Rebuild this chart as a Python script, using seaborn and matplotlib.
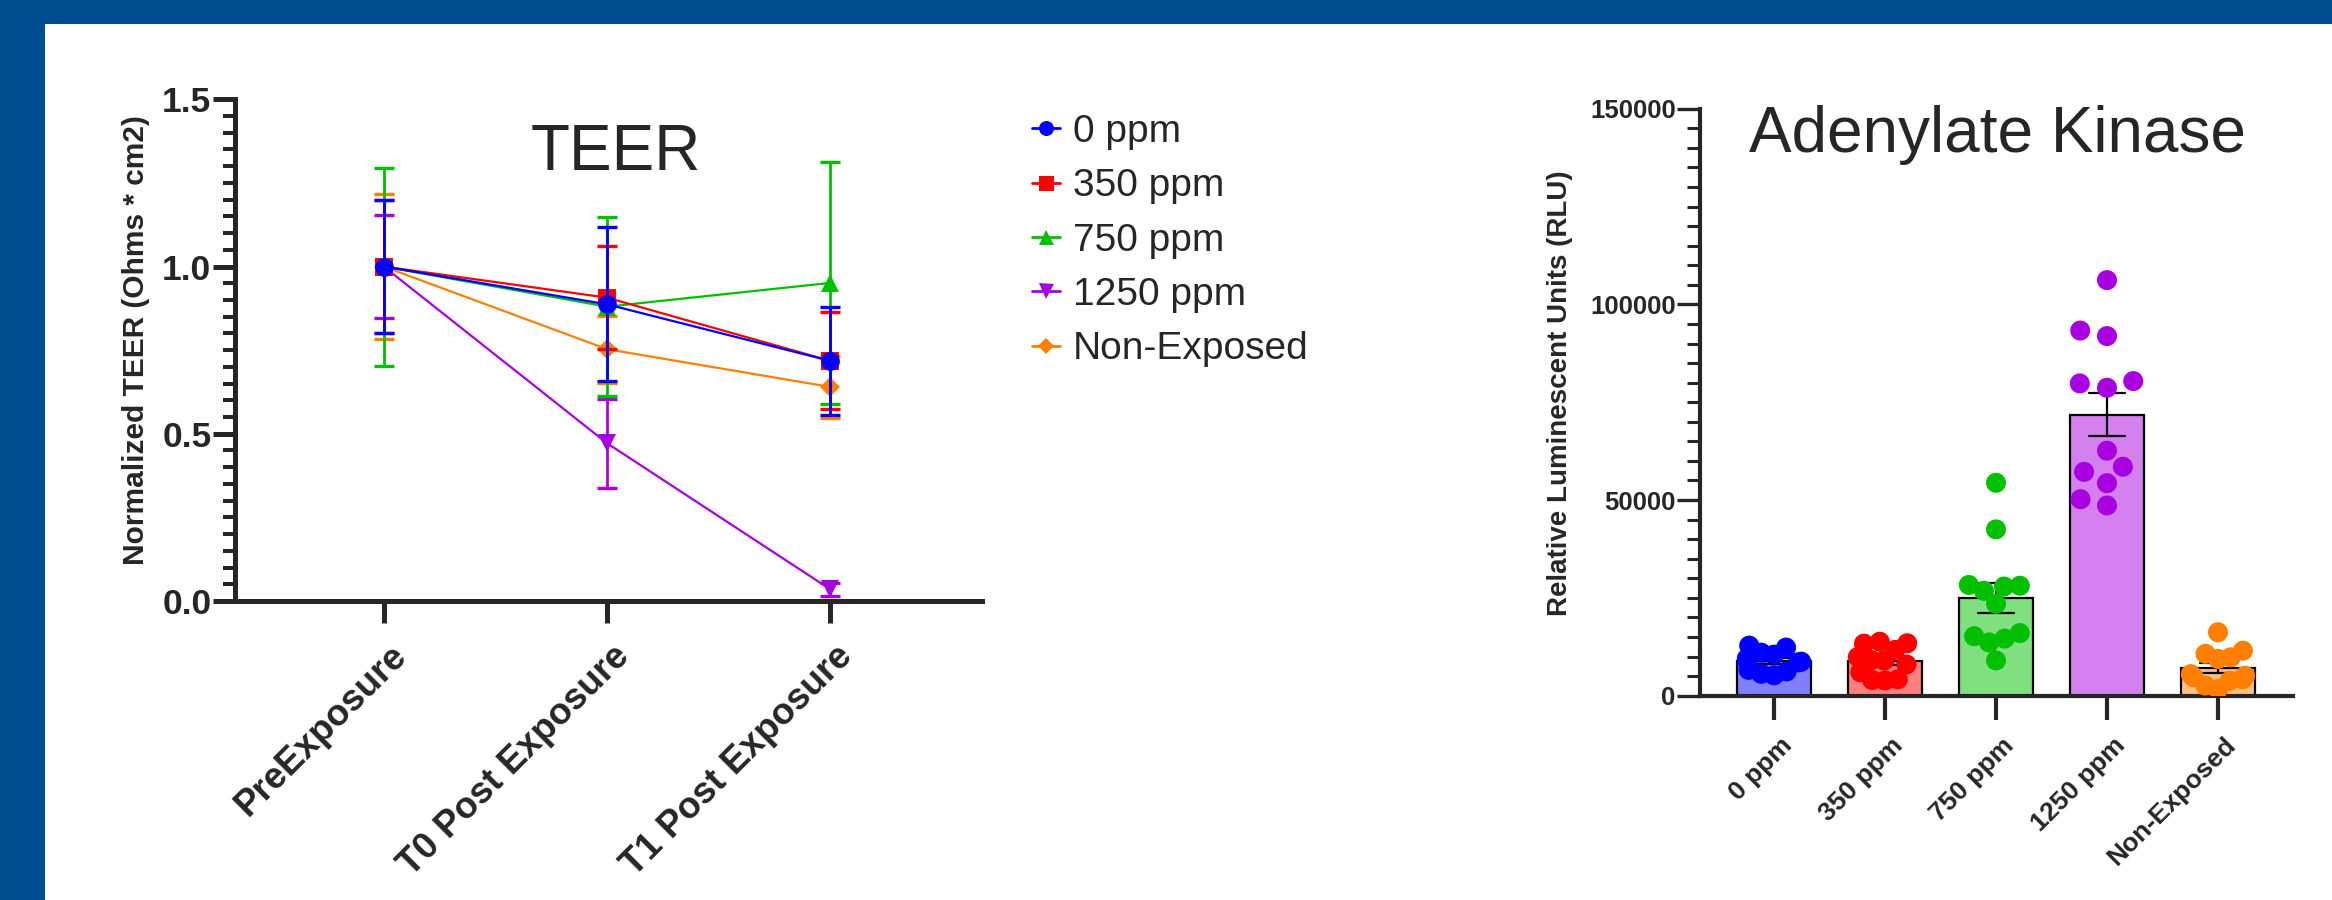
import numpy as np
import pandas as pd
import matplotlib
matplotlib.use("Agg")
import matplotlib.pyplot as plt
from matplotlib.lines import Line2D
from matplotlib.patches import Rectangle
from matplotlib.ticker import MultipleLocator
from matplotlib.transforms import ScaledTranslation
import seaborn as sns

# ---------------- data ----------------
time_points = ["PreExposure", "T0 Post Exposure", "T1 Post Exposure"]
groups = ["0 ppm", "350 ppm", "750 ppm", "1250 ppm", "Non-Exposed"]

teer_mean_0ppm = [1.00, 0.887, 0.718]
teer_sd_0ppm = [0.200, 0.230, 0.162]
teer_mean_350ppm = [1.00, 0.907, 0.718]
teer_sd_350ppm = [0.198, 0.155, 0.145]
teer_mean_750ppm = [1.00, 0.880, 0.951]
teer_sd_750ppm = [0.296, 0.268, 0.362]
teer_mean_1250ppm = [1.00, 0.472, 0.035]
teer_sd_1250ppm = [0.155, 0.133, 0.020]
teer_mean_nonexp = [1.00, 0.753, 0.640]
teer_sd_nonexp = [0.217, 0.100, 0.094]

ak_0ppm = [12800, 12300, 11000, 10500, 9500, 9000, 8700, 8500, 6600, 6200, 5600, 5200]
ak_350ppm = [13800, 13400, 13300, 11700, 9900, 9100, 9000, 8000, 6000, 4200, 4000, 3900]
ak_750ppm = [54400, 42500, 28300, 28100, 27900, 26800, 23500, 16000, 15200, 14600, 13600, 9000]
ak_1250ppm = [106200, 93300, 91900, 80400, 79800, 78700, 62600, 58500, 57200, 54300, 50200, 48600]
ak_nonexp = [16200, 11500, 10700, 9800, 9400, 5500, 5100, 4700, 4200, 3800, 2600, 1700]

teer_yticks = [0.0, 0.5, 1.0, 1.5]
ak_yticks = [0, 50000, 100000, 150000]

# ---------------- styles ----------------
line_col = {"0 ppm": "#0000FF", "350 ppm": "#FF0000", "750 ppm": "#00C000",
            "1250 ppm": "#A800E0", "Non-Exposed": "#FF8000"}
bar_fill = {"0 ppm": "#8080FF", "350 ppm": "#FF8080", "750 ppm": "#80DF80",
            "1250 ppm": "#D580EF", "Non-Exposed": "#FFC080"}
markers = {"0 ppm": "o", "350 ppm": "s", "750 ppm": "^", "1250 ppm": "v", "Non-Exposed": "D"}
msize = {"0 ppm": 13.5, "350 ppm": 13.5, "750 ppm": 13.5, "1250 ppm": 13.5, "Non-Exposed": 10}
draw_order = ["Non-Exposed", "1250 ppm", "750 ppm", "350 ppm", "0 ppm"]

sns.set_style("ticks")
plt.rcParams["font.family"] = ["Liberation Sans", "DejaVu Sans"]

W, H = 2332, 900
fig = plt.figure(figsize=(W / 100, H / 100), dpi=100)
fig.patch.set_facecolor("white")
border = "#004B8D"
fig.patches.append(Rectangle((0, 1 - 24 / H), 1, 24 / H, transform=fig.transFigure,
                             facecolor=border, edgecolor="none", zorder=0))
fig.patches.append(Rectangle((0, 0), 45 / W, 1, transform=fig.transFigure,
                             facecolor=border, edgecolor="none", zorder=0))


def axes_px(l, t, r, b):
    return fig.add_axes([l / W, 1 - b / H, (r - l) / W, (b - t) / H])


ax1 = axes_px(235, 99.3, 982, 601)
ax2 = axes_px(1700, 108.7, 2293, 695.7)

# ---------------- TEER ----------------
teer_df = pd.DataFrame({
    "time": time_points * 5,
    "group": np.repeat(groups, len(time_points)),
    "mean": teer_mean_0ppm + teer_mean_350ppm + teer_mean_750ppm + teer_mean_1250ppm + teer_mean_nonexp,
    "sd": teer_sd_0ppm + teer_sd_350ppm + teer_sd_750ppm + teer_sd_1250ppm + teer_sd_nonexp,
})

for z, g in enumerate(draw_order):
    sub = teer_df[teer_df["group"] == g]
    sns.lineplot(data=sub, x="time", y="mean", color=line_col[g], marker=markers[g],
                 markersize=msize[g], markeredgewidth=0, linewidth=1.6, sort=False,
                 errorbar=None, ax=ax1, zorder=3 + z, clip_on=False)
    ax1.errorbar(sub["time"], sub["mean"], yerr=sub["sd"], fmt="none", ecolor=line_col[g],
                 elinewidth=2.0, capsize=7.4, capthick=2.4, zorder=3 + z, clip_on=False)

ax1.set_xlim(-0.666, 2.68)
ax1.set_ylim(0, 1.5)
ax1.set_yticks(teer_yticks, labels=[f"{v:.1f}" for v in teer_yticks],
               fontsize=25.5, fontweight="bold")
ax1.yaxis.set_minor_locator(MultipleLocator(0.05))
for s in ["top", "right"]:
    ax1.spines[s].set_visible(False)
for s in ["left", "bottom"]:
    ax1.spines[s].set_linewidth(3.6)
ax1.tick_params(axis="y", which="major", length=16, width=3.6, pad=1)
ax1.tick_params(axis="y", which="minor", length=8.5, width=2.9)
ax1.tick_params(axis="x", which="major", length=16, width=3.6, pad=11)
shift1 = ScaledTranslation(0.05, 0, fig.dpi_scale_trans)
for lab in ax1.get_xticklabels():
    lab.set_rotation(45)
    lab.set_ha("right")
    lab.set_va("top")
    lab.set_rotation_mode("anchor")
    lab.set_fontsize(26.5)
    lab.set_fontweight("bold")
    lab.set_transform(lab.get_transform() + shift1)
ax1.set_xlabel("")
ax1.set_ylabel("Normalized TEER (Ohms * cm2)", fontsize=21.5, fontweight="bold", va="center")
ax1.yaxis.set_label_coords(-0.1325, 0.52)
ax1.set_title("TEER", fontsize=46, y=0.86, pad=0)
ax1.title.set_x(0.51)

handles = [Line2D([0], [0], color=line_col[g], marker=markers[g], markersize=msize[g] * 0.8,
                  markeredgewidth=0, linewidth=2) for g in groups]
fig.legend(handles, groups, loc="upper left", bbox_to_anchor=(1032 / W, 1 - 114 / H),
           frameon=False, fontsize=28, handlelength=0.72, handletextpad=0.33,
           labelspacing=0.47, borderpad=0, borderaxespad=0)

# ---------------- Adenylate Kinase ----------------
ak_values = [ak_0ppm, ak_350ppm, ak_750ppm, ak_1250ppm, ak_nonexp]
ak_df = pd.DataFrame({
    "group": np.repeat(groups, [len(v) for v in ak_values]),
    "rlu": np.concatenate(ak_values),
})

sns.barplot(data=ak_df, x="group", y="rlu", hue="group", order=groups, hue_order=groups,
            palette=bar_fill, errorbar="se", capsize=0.33, width=0.66, saturation=1,
            edgecolor="black", linewidth=1.6, err_kws={"color": "black", "linewidth": 1.6},
            legend=False, ax=ax2)
sns.swarmplot(data=ak_df, x="group", y="rlu", hue="group", order=groups, hue_order=groups,
              palette=line_col, size=14.4, linewidth=0, zorder=3, legend=False,
              warn_thresh=1, ax=ax2)

ax2.set_xlim(-0.667, 4.676)
ax2.set_ylim(0, 150000)
ax2.set_yticks(ak_yticks, labels=[str(v) for v in ak_yticks], fontsize=18.5, fontweight="bold")
ax2.yaxis.set_minor_locator(MultipleLocator(5000))
for s in ["top", "right"]:
    ax2.spines[s].set_visible(False)
for s in ["left", "bottom"]:
    ax2.spines[s].set_linewidth(3.0)
ax2.tick_params(axis="y", which="major", length=16.5, width=2.4, pad=1)
ax2.tick_params(axis="y", which="minor", length=9.4, width=2.2)
ax2.tick_params(axis="x", which="major", length=17, width=3.0, pad=10)
shift2 = ScaledTranslation(0.06, 0, fig.dpi_scale_trans)
for lab in ax2.get_xticklabels():
    lab.set_rotation(45)
    lab.set_ha("right")
    lab.set_va("top")
    lab.set_rotation_mode("anchor")
    lab.set_fontsize(19)
    lab.set_fontweight("bold")
    lab.set_transform(lab.get_transform() + shift2)
ax2.set_xlabel("")
ax2.set_ylabel("Relative Luminescent Units (RLU)", fontsize=20, fontweight="bold", va="center")
ax2.yaxis.set_label_coords(-0.236, 0.516)
ax2.set_title("Adenylate Kinase", fontsize=46, y=0.926, pad=0)
ax2.title.set_x(0.5025)

# let seaborn lay out the swarms, then fit each swarm to a common spread over its bar
fig.canvas.draw()
for coll in ax2.collections:
    if "draw" in coll.__dict__:
        del coll.draw
        off = np.asarray(coll.get_offsets()).copy()
        ctr = np.round(off[:, 0])
        dx = off[:, 0] - ctr
        span = np.abs(dx).max()
        if span > 0:
            off[:, 0] = ctr + dx * (0.245 / span)
        coll.set_offsets(off)

fig.savefig("out.png", dpi=100)
